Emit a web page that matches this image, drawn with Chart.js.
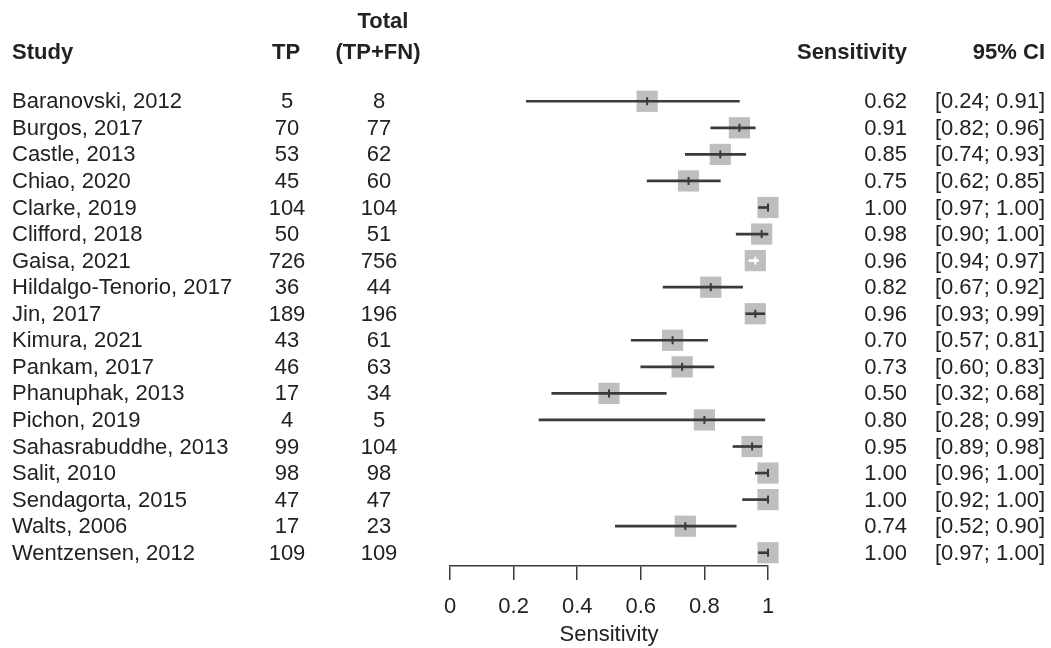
<!DOCTYPE html>
<html lang="en">
<head>
  <meta charset="UTF-8" />
  <title>Sensitivity forest plot</title>
  <script src="https://cdn.jsdelivr.net/npm/chart.js"></script>
  <style>
    body {
      margin: 0;
      background: #ffffff;
    }
    #wrap {
      width: 1051px;
      height: 648px;
    }
  </style>
</head>
<body>
  <div id="wrap"><canvas id="forest"></canvas></div>

  <script>
    const studies = [
      'Baranovski, 2012', 'Burgos, 2017', 'Castle, 2013', 'Chiao, 2020',
      'Clarke, 2019', 'Clifford, 2018', 'Gaisa, 2021', 'Hildalgo-Tenorio, 2017',
      'Jin, 2017', 'Kimura, 2021', 'Pankam, 2017', 'Phanuphak, 2013',
      'Pichon, 2019', 'Sahasrabuddhe, 2013', 'Salit, 2010', 'Sendagorta, 2015',
      'Walts, 2006', 'Wentzensen, 2012'
    ];
    const tp    = [5, 70, 53, 45, 104, 50, 726, 36, 189, 43, 46, 17, 4, 99, 98, 47, 17, 109];
    const total = [8, 77, 62, 60, 104, 51, 756, 44, 196, 61, 63, 34, 5, 104, 98, 47, 23, 109];
    const sens   = [0.62, 0.91, 0.85, 0.75, 1.00, 0.98, 0.96, 0.82, 0.96, 0.70, 0.73, 0.50, 0.80, 0.95, 1.00, 1.00, 0.74, 1.00];
    const ciLow  = [0.24, 0.82, 0.74, 0.62, 0.97, 0.90, 0.94, 0.67, 0.93, 0.57, 0.60, 0.32, 0.28, 0.89, 0.96, 0.92, 0.52, 0.97];
    const ciHigh = [0.91, 0.96, 0.93, 0.85, 1.00, 1.00, 0.97, 0.92, 0.99, 0.81, 0.83, 0.68, 0.99, 0.98, 1.00, 1.00, 0.90, 1.00];
    const xTicks = [0, 0.2, 0.4, 0.6, 0.8, 1];

    const FONT = '"Liberation Sans", Arial, Helvetica, sans-serif';
    const TEXT = '#222222';
    const LINE = '#3a3a3a';
    const SQUARE_HALF = 10.5;

    // CI drawn white when it sits entirely inside the grey square (like R meta)
    function ciColor(ctx) {
      const i = ctx.dataIndex;
      const x = ctx.chart.scales.x;
      if (!x || i === undefined) return LINE;
      const c = x.getPixelForValue(sens[i]);
      const lo = x.getPixelForValue(ciLow[i]);
      const hi = x.getPixelForValue(ciHigh[i]);
      if (lo > c - SQUARE_HALF + 1 && hi < c + SQUARE_HALF - 1) return '#ffffff';
      return LINE;
    }

    const fmt = v => v.toFixed(2);

    // text columns, positioned on the rows of the y scale
    const tablePlugin = {
      id: 'tableText',
      afterDraw(chart) {
        const c = chart.ctx;
        const y = chart.scales.y;
        c.save();
        c.fillStyle = TEXT;
        c.textBaseline = 'middle';

        c.font = 'bold 22px ' + FONT;
        const hy = 53, hy2 = 22;
        c.textAlign = 'left';
        c.fillText('Study', 12, hy);
        c.textAlign = 'center';
        c.fillText('TP', 286, hy);
        c.fillText('Total', 383, hy2);
        c.fillText('(TP+FN)', 378, hy);
        c.textAlign = 'right';
        c.fillText('Sensitivity', 907, hy);
        c.fillText('95% CI', 1045, hy);

        c.font = '22px ' + FONT;
        studies.forEach((s, i) => {
          const py = y.getPixelForValue(i) + 1;
          c.textAlign = 'left';
          c.fillText(s, 12, py);
          c.textAlign = 'center';
          c.fillText(String(tp[i]), 287, py);
          c.fillText(String(total[i]), 379, py);
          c.textAlign = 'right';
          c.fillText(fmt(sens[i]), 907, py);
          c.fillText('[' + fmt(ciLow[i]) + '; ' + fmt(ciHigh[i]) + ']', 1045, py);
        });
        c.restore();
      }
    };

    const ctx = document.getElementById('forest').getContext('2d');
    const forest = new Chart(ctx, {
      data: {
        datasets: [
          {
            type: 'scatter',
            label: 'estimate',
            data: sens.map((v, i) => ({ x: v, y: i })),
            pointStyle: 'line',
            rotation: 90,
            pointRadius: 4,
            borderWidth: 2,
            borderColor: ciColor,
            clip: false
          },
          {
            type: 'bar',
            label: '95% CI',
            indexAxis: 'y',
            data: ciLow.map((v, i) => ({ x: [v, ciHigh[i]], y: i })),
            backgroundColor: ciColor,
            borderWidth: 0,
            barThickness: 2,
            clip: false
          },
          {
            type: 'scatter',
            label: 'weight',
            data: sens.map((v, i) => ({ x: v, y: i })),
            pointStyle: 'rect',
            pointRadius: 15,
            backgroundColor: '#bebebe',
            borderWidth: 0,
            clip: false
          }
        ]
      },
      options: {
        responsive: true,
        maintainAspectRatio: false,
        animation: false,
        layout: {
          padding: { top: 88, left: 450, right: 283, bottom: 0 }
        },
        plugins: {
          legend: { display: false },
          tooltip: { enabled: false }
        },
        scales: {
          x: {
            type: 'linear',
            position: 'bottom',
            min: 0,
            max: 1,
            offset: false,
            afterBuildTicks: scale => {
              scale.ticks = xTicks.map(v => ({ value: v }));
            },
            afterFit: scale => { scale.height = 82; },
            ticks: {
              color: TEXT,
              font: { family: FONT, size: 22 },
              padding: 14,
              maxRotation: 0,
              callback: v => String(v)
            },
            grid: {
              display: true,
              drawOnChartArea: false,
              drawTicks: true,
              tickLength: 14,
              color: LINE,
              lineWidth: 1.5
            },
            border: { display: true, color: LINE, width: 1.5 },
            title: {
              display: true,
              text: 'Sensitivity',
              color: TEXT,
              font: { family: FONT, size: 22 },
              padding: { top: 0, bottom: 0 }
            }
          },
          y: {
            type: 'linear',
            display: false,
            offset: false,
            reverse: true,
            min: -0.5,
            max: 17.5
          }
        }
      },
      plugins: [tablePlugin]
    });
  </script>
</body>
</html>
